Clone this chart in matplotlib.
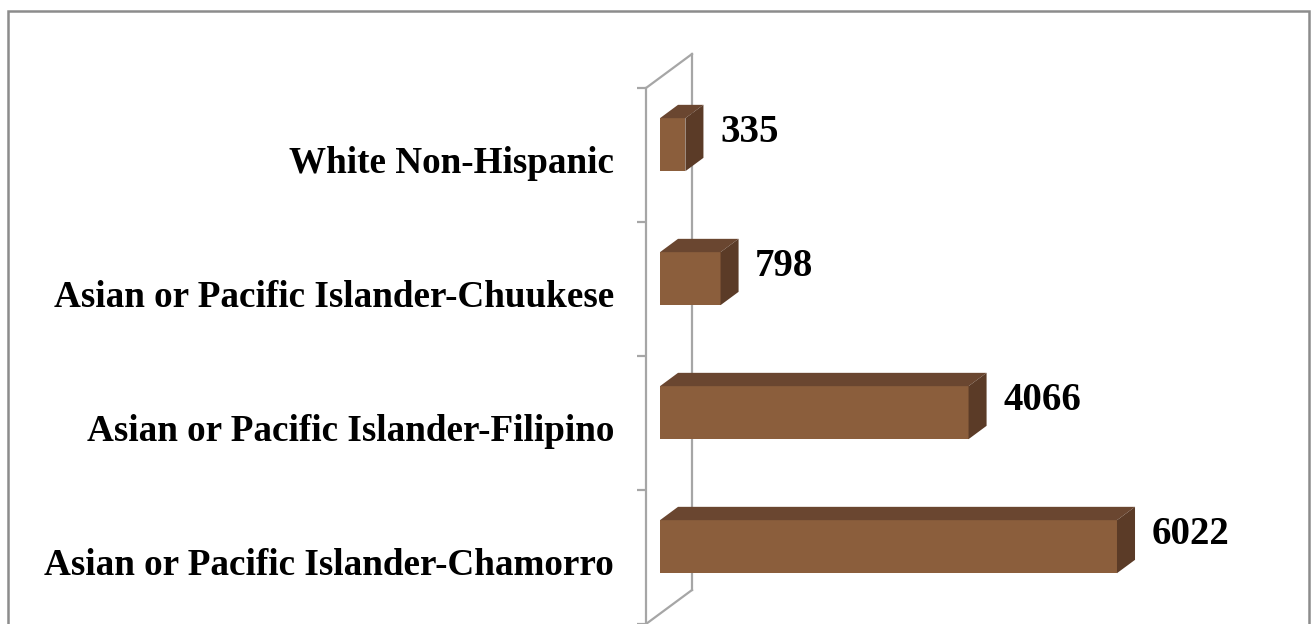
import numpy as np
import matplotlib
matplotlib.use("Agg")
import matplotlib.pyplot as plt
import matplotlib.patches as pat
import matplotlib.transforms as mtrans

# data
categories = ["Asian or Pacific Islander-Chamorro",
              "Asian or Pacific Islander-Filipino",
              "Asian or Pacific Islander-Chuukese",
              "White Non-Hispanic"]
values = [6022, 4066, 798, 335]

# colours
c_front = "#8B5E3C"
c_top = "#6A4630"
c_side = "#5B3B27"
c_wall = "#A6A6A6"
c_frame = "#8C8C8C"

plt.rcParams['font.family'] = ['Liberation Serif', 'DejaVu Serif']
plt.rcParams['font.weight'] = 'bold'

W, H = 1313, 624
fig = plt.figure(figsize=(W / 100, H / 100), dpi=100)

# pixel layout of the plot area
sx = 457 / 6022.0          # px per unit on the value axis
sy = 134.0                 # px per category
x_px0 = 646                # value 0 on the front wall
xlim = (-600, 8000)
ylim = (-0.5, 3.9)
top_px = 557 - sy * ylim[1]
left = (x_px0 + xlim[0] * sx) / W
width = (xlim[1] - xlim[0]) * sx / W
ax = fig.add_axes([left, 0, width, (H - top_px) / H])
ax.set_xlim(*xlim)
ax.set_ylim(*ylim)
ax.patch.set_alpha(0)

# wall depth (data units)
DX = 46 / sx
DY = 34 / sy
f0, f1 = 0.304, 0.696
bh = 53 / sy

ypos = np.arange(len(categories))

# wall outline
ax.plot([0, DX], [3.5, 3.5 + DY], color=c_wall, lw=1.6, zorder=1)
ax.plot([0, DX], [-0.5, -0.5 + DY], color=c_wall, lw=1.6, zorder=1, clip_on=False)
ax.plot([DX, DX], [-0.5 + DY, 3.5 + DY], color=c_wall, lw=1.6, zorder=1)

for s in ['top', 'right', 'bottom']:
    ax.spines[s].set_visible(False)
ax.spines['left'].set_position(('data', 0))
ax.spines['left'].set_bounds(-0.5, 3.5)
ax.spines['left'].set_color(c_wall)
ax.spines['left'].set_linewidth(1.6)
ax.set_xticks([])
ax.set_yticks(np.arange(-0.5, 4, 1.0))
ax.set_yticklabels([])
ax.tick_params(axis='y', which='major', direction='out', length=6.5, width=1.6, color=c_wall)
ax.set_yticks(ypos, categories, minor=True)
ax.tick_params(axis='y', which='minor', length=0, pad=23, labelsize=26.7)
shift = mtrans.ScaledTranslation(0, -3 / 72, fig.dpi_scale_trans)
for lab in ax.get_yticklabels(minor=True):
    lab.set_transform(lab.get_transform() + shift)

# 3d bars
x0 = f0 * DX
bdx = (f1 - f0) * DX
bdy = (f1 - f0) * DY
for y, v in zip(ypos, values):
    yc = y + f0 * DY
    ax.barh(yc, v, left=x0, height=bh, color=c_front, zorder=3)
    ytop = yc + bh / 2
    ybot = yc - bh / 2
    ax.add_patch(pat.Polygon([(x0, ytop), (x0 + v, ytop), (x0 + v + bdx, ytop + bdy),
                              (x0 + bdx, ytop + bdy)], closed=True, color=c_top, zorder=3, lw=0))
    ax.add_patch(pat.Polygon([(x0 + v, ybot), (x0 + v, ytop), (x0 + v + bdx, ytop + bdy),
                              (x0 + v + bdx, ybot + bdy)], closed=True, color=c_side, zorder=3, lw=0))
    ax.annotate(str(v), (x0 + v + bdx, yc + bdy), xytext=(12, -1), textcoords='offset points',
                ha='left', va='center', fontsize=28, fontweight='bold', color='black')

# outer frame
fig.patches.append(pat.Rectangle((8 / W, -0.1), (1309 - 8) / W, (624 - 11) / H + 0.1,
                                 transform=fig.transFigure, fill=False,
                                 edgecolor=c_frame, lw=1.8, zorder=10))

fig.savefig("out.png", dpi=100)
